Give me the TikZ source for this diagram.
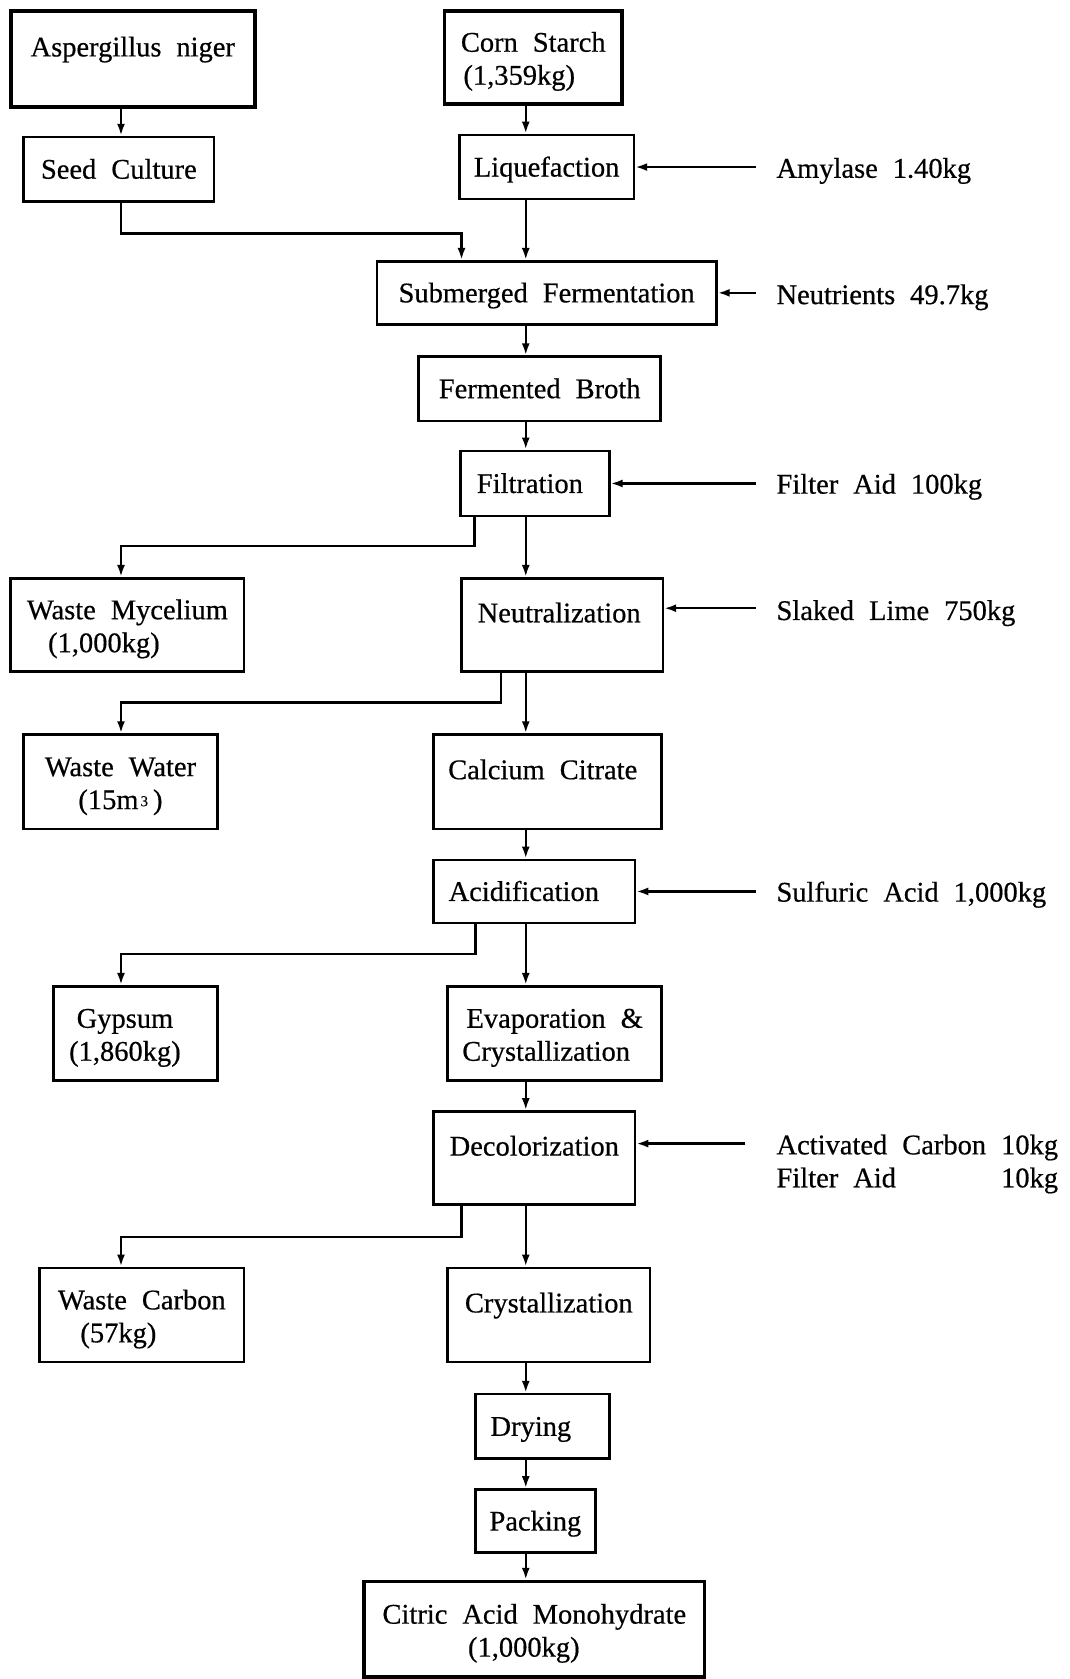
\documentclass[tikz,border=0pt]{standalone}
\usepackage{fontspec}
\setmainfont{Liberation Serif}[WordSpace=2.1,FakeBold=0.5]
\usetikzlibrary{arrows.meta}
\newcommand\tstrut{\rule{0pt}{28pt}}
\begin{document}
\begin{tikzpicture}[x=1.0711pt,y=-1.0711pt,
  every node/.style={font=\fontsize{28.5}{33}\selectfont},
  stage/.style 2 args={draw, line width=2.6pt, inner sep=0pt, minimum width={#1*1.0711pt}, minimum height={#2*1.0711pt}},
  heavy/.style={line width=3.6pt},
  one/.style={text height=19pt, text depth=0pt},
  two/.style={align=center},
  lab/.style={inner sep=0pt, anchor=base west},
  arr/.style={line width=2.4pt, -{Latex[length=12pt,width=8pt]}},
]
\useasboundingbox (0,0) rectangle (999,1568);
\fill[white] (0,0) rectangle (999,1568);

% boxes
\node[stage={228}{90}, heavy, two] (asp) at (124,55) {\tstrut Aspergillus niger\\\mbox{}};
\node[stage={166}{87}, heavy, two] (corn) at (498,53.5) {\tstrut Corn Starch\\\hspace*{-28pt}(1,359kg)};
\node[stage={178}{60}, one] (seed) at (111,158) {Seed Culture};
\node[stage={163}{60}, one] (liq) at (510.5,156) {Liquefaction};
\node[stage={317}{59}, one] (sub) at (510.5,273.5) {Submerged Fermentation};
\node[stage={226}{60}, one] (broth) at (504,363) {Fermented Broth};
\node[stage={139}{61}, one] (filt) at (499.5,451.5) {Filtration\hspace*{10pt}};
\node[stage={218}{87}, two] (myc) at (119,583.5) {\tstrut Waste Mycelium\\\hspace*{-47pt}(1,000kg)};
\node[stage={188}{87}, two] (neut) at (525,583.5) {\tstrut Neutralization\hspace*{6pt}\\\mbox{}};
\node[stage={181}{88}, two] (ww) at (112.5,730) {\tstrut Waste Water\\(15m\hspace{2pt}\raisebox{3pt}{\fontsize{15}{15}\selectfont 3}\hspace{5pt})};
\node[stage={213}{88}, two] (calc) at (511.5,730) {\tstrut Calcium Citrate\hspace*{10pt}\\\mbox{}};
\node[stage={188}{59}, one] (acid) at (499,832.5) {Acidification\hspace*{21pt}};
\node[stage={153}{88}, two] (gyp) at (126.5,965) {\tstrut Gypsum\hspace*{21pt}\\(1,860kg)\hspace*{21pt}};
\node[stage={200}{88}, two] (evap) at (518,965) {\tstrut Evaporation \&\\\hspace*{-17pt}Crystallization};
\node[stage={188}{87}, two] (deco) at (499,1081.5) {\tstrut Decolorization\\\mbox{}};
\node[stage={191}{88}, two] (wc) at (132.5,1228) {\tstrut Waste Carbon\\\hspace*{-47pt}(57kg)};
\node[stage={189}{88}, two] (cryst) at (512.5,1228) {\tstrut Crystallization\\\mbox{}};
\node[stage={125}{60}, one] (dry) at (506.5,1332) {Drying\hspace*{23pt}};
\node[stage={112}{59}, one] (pack) at (500,1420.5) {Packing};
\node[stage={318}{89}, heavy, two] (cit) at (499,1521.5) {\tstrut Citric Acid Monohydrate\\\hspace*{-21pt}(1,000kg)};

% side inputs
\node[lab] (amy) at (725,166) {Amylase 1.40kg};
\node[lab] (nut) at (725,284) {Neutrients 49.7kg};
\node[lab] (fa) at (725,461) {Filter Aid 100kg};
\node[lab] (sl) at (725,579) {Slaked Lime 750kg};
\node[lab] (su) at (725,842) {Sulfuric Acid 1,000kg};
\node[lab] (ac) at (725,1078) {\begin{tabular}[t]{@{}l@{\hspace{15pt}}r@{}}Activated Carbon & 10kg\\ Filter Aid & 10kg\end{tabular}};

\coordinate (amyS) at (706,156);
\coordinate (nutS) at (706,273.5);
\coordinate (faS) at (706,451.5);
\coordinate (slS) at (706,568);
\coordinate (suS) at (706,832.5);
\coordinate (acS) at (696,1068);
\draw[arr] (amyS) -- (liq.east);
\draw[arr] (nutS) -- (sub.east);
\draw[arr] (faS) -- (filt.east);
\draw[arr] (slS) -- (slS -| neut.east);
\draw[arr] (suS) -- (acid.east);
\draw[arr] (acS) -- (acS -| deco.east);

% main flow
\coordinate (mx) at (491,0);
\coordinate (lx) at (113,0);
\draw[arr] (asp.south -| lx) -- (seed.north -| lx);
\draw[arr] (corn.south -| mx) -- (liq.north -| mx);
\draw[arr] (liq.south -| mx) -- (sub.north -| mx);
\draw[arr] (sub.south -| mx) -- (broth.north -| mx);
\draw[arr] (broth.south -| mx) -- (filt.north -| mx);
\draw[arr] (filt.south -| mx) -- (neut.north -| mx);
\draw[arr] (neut.south -| mx) -- (calc.north -| mx);
\draw[arr] (calc.south -| mx) -- (acid.north -| mx);
\draw[arr] (acid.south -| mx) -- (evap.north -| mx);
\draw[arr] (evap.south -| mx) -- (deco.north -| mx);
\draw[arr] (deco.south -| mx) -- (cryst.north -| mx);
\draw[arr] (cryst.south -| mx) -- (dry.north -| mx);
\draw[arr] (dry.south -| mx) -- (pack.north -| mx);
\draw[arr] (pack.south -| mx) -- (cit.north -| mx);

% seed culture to fermentation
\coordinate (j0) at (431,218);
\draw[arr] (seed.south -| lx) |- (j0) -- (j0 |- sub.north);

% waste branches
\coordinate (b1) at (443,510);
\coordinate (b2) at (468,656);
\coordinate (b3) at (444,891);
\coordinate (b4) at (431,1155);
\draw[arr] (b1 |- filt.south) -- (b1) -| (lx |- myc.north);
\draw[arr] (b2 |- neut.south) -- (b2) -| (lx |- ww.north);
\draw[arr] (b3 |- acid.south) -- (b3) -| (lx |- gyp.north);
\draw[arr] (b4 |- deco.south) -- (b4) -| (lx |- wc.north);
\end{tikzpicture}
\end{document}
